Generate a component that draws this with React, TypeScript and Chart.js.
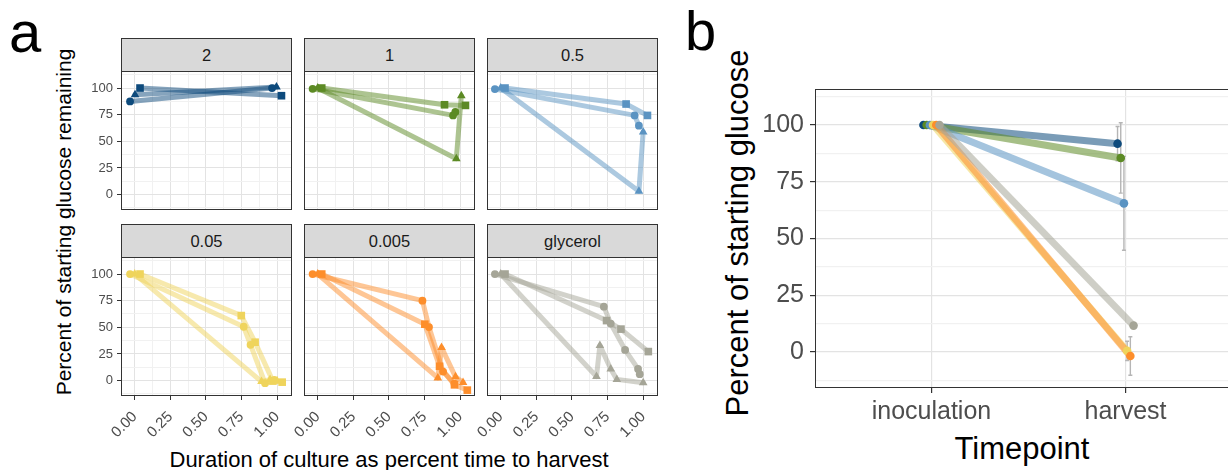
import React, { useEffect, useRef } from 'react';
import { Chart, registerables } from 'chart.js';

Chart.register(...registerables);

const FONT = '"Liberation Sans", Arial, Helvetica, sans-serif';
Chart.defaults.font.family = FONT;

// Glucose feed treatments (facets in panel a, series in panel b)
const treatments = ['2', '1', '0.5', '0.05', '0.005', 'glycerol'];
const treatmentColors = ['#0d4a7c', '#5c8a24', '#5a93c2', '#efd45c', '#fd8e2b', '#a5a597'];
const replicateShapes = ['circle', 'triangle', 'rect'];

// Panel a: sampling time (fraction of time to harvest) and glucose remaining (%)
// one inner array per replicate: circle, triangle, square
const time2 = [[-0.033, 0.964], [0.002, 0.995], [0.037, 1.03]];
const glucose2 = [[87.4, 100], [93.7, 101], [100, 92.8]];
const time1 = [[-0.036, 0.95, 0.966], [0.0, 0.973, 1.008], [0.028, 0.89, 1.037]];
const glucose1 = [[99.3, 74.3, 77.5], [100, 33.7, 92.8], [100, 84.3, 83.7]];
const time0_5 = [[-0.041, 0.94, 0.97], [0.0, 0.97, 1.0], [0.03, 0.88, 1.03]];
const glucose0_5 = [[99, 74.3, 64.7], [100, 3.1, 58.8], [100, 85, 74.3]];
const time0_05 = [[-0.033, 0.765, 0.813, 0.915, 0.98], [0.0, 0.89, 0.95, 1.0], [0.037, 0.748, 0.845, 0.97, 1.035]];
const glucose0_05 = [[100, 50.5, 33.5, -2.5, 0.5], [100, -1, 1, -0.5], [100, 61, 36, -0.5, -1.5]];
const time0_005 = [[-0.036, 0.735, 0.781, 0.88, 0.96], [0.0, 0.843, 0.869, 0.967, 1.02], [0.028, 0.752, 0.855, 0.96, 1.05]];
const glucose0_005 = [[100, 75, 50.2, 8.4, -3], [100, 2.5, 31.1, 3.5, -1.8], [100, 52.9, 13.4, -4, -9]];
const timeGlycerol = [[-0.041, 0.724, 0.772, 0.873, 0.964, 0.976], [0.0, 0.672, 0.696, 0.772, 0.815, 1.0], [0.03, 0.743, 0.844, 1.036]];
const glucoseGlycerol = [[100, 69.4, 53.5, 28.8, 10.9, 6], [100, 3.8, 33, 10.9, 1.1, -2.1], [100, 56.3, 48.3, 27.2]];

const facetTimes = [time2, time1, time0_5, time0_05, time0_005, timeGlycerol];
const facetGlucose = [glucose2, glucose1, glucose0_5, glucose0_05, glucose0_005, glucoseGlycerol];

const facetTimeTicks = [0, 0.25, 0.5, 0.75, 1];
const facetGlucoseTicks = [0, 25, 50, 75, 100];

// Panel b: mean percent of starting glucose with standard error
const timepoints = ['inoculation', 'harvest'];
const inoculationMean = [100, 100, 100, 100, 100, 100];
const harvestMean = [91.8, 85.5, 65.5, 0.45, -1.8, 11.6];
const harvestSE = [7.6, 15.5, 20.7, 4.25, 8.5, 1.2];
const glucoseTicks = [0, 25, 50, 75, 100];

// ---------- helpers ----------
function rgba(hex: string, a: number) {
  const n = parseInt(hex.slice(1), 16);
  return `rgba(${(n >> 16) & 255},${(n >> 8) & 255},${n & 255},${a})`;
}

function majorAndMinor(major: number[], min: number, max: number) {
  const half = (major[1] - major[0]) / 2;
  const out: number[] = [];
  for (let k = Math.ceil(min / half); k * half <= max; k++) out.push(k * half);
  return out;
}

function isMajor(v: number, major: number[]) {
  return major.some((m) => Math.abs(m - v) < 1e-9);
}

const panelFrame = {
  id: 'panelFrame',
  afterDatasetsDraw(chart: any) {
    const { ctx, chartArea } = chart;
    const { left, top, right, bottom } = chartArea;
    ctx.save();
    ctx.strokeStyle = '#333333';
    ctx.lineWidth = 1;
    ctx.strokeRect(left + 0.5, top + 0.5, right - left - 1, bottom - top - 1);
    ctx.restore();
  },
};

const GRID_MAJOR = '#e3e3e3';
const GRID_MINOR = '#f1f1f1';
const TICK_TEXT = '#4d4d4d';
const TICK_MARK = '#333333';

// ---------- layout of panel a ----------
const PAD = 24;
const FACET_W = 171;
const FACET_H = 139;
const STRIP_H = 33;
const colLefts = [121, 304, 487];
const rowTops = [71, 257];
const Y_AXIS_W = 46;
const X_AXIS_H = 54;
const X_MIN = -0.0965;
const X_MAX = 1.104;
const Y_MIN = -14.5;
const Y_MAX = 116;

// panel b plot area
const B_PAD = 10;
const B_LEFT = 815;
const B_TOP = 78;
const B_W = 427;
const B_H = 310;
const B_Y_AXIS_W = 75;
const B_X_AXIS_H = 42;
const B_DODGE = 0.0165;

function ChartCanvas(props: { left: number; top: number; width: number; height: number; build: () => any }) {
  const ref = useRef<HTMLCanvasElement | null>(null);
  useEffect(() => {
    const chart = new Chart(ref.current as HTMLCanvasElement, props.build());
    return () => chart.destroy();
  }, []);
  return (
    <canvas
      ref={ref}
      width={props.width}
      height={props.height}
      style={{ position: 'absolute', left: props.left, top: props.top, width: props.width, height: props.height }}
    />
  );
}

function facetConfig(i: number) {
  const col = i % 3;
  const row = Math.floor(i / 3);
  const color = treatmentColors[i];
  const datasets: any[] = [];
  replicateShapes.forEach((shape, r) => {
    const pts = facetTimes[i][r].map((t, k) => ({ x: t, y: facetGlucose[i][r][k] }));
    datasets.push({
      data: pts,
      showLine: true,
      borderColor: rgba(color, 0.5),
      borderWidth: 5,
      pointRadius: 0,
      borderJoinStyle: 'round',
      borderCapStyle: 'round',
      order: 10 + r,
    });
    datasets.push({
      data: pts,
      showLine: false,
      pointStyle: shape,
      pointRadius: shape === 'rect' ? 5.4 : shape === 'triangle' ? 5 : 3.9,
      pointBackgroundColor: color,
      pointBorderColor: color,
      pointBorderWidth: 0,
      order: r,
    });
  });
  const xTicks = majorAndMinor(facetTimeTicks, X_MIN, X_MAX);
  const yTicks = majorAndMinor(facetGlucoseTicks, Y_MIN, Y_MAX);
  return {
    type: 'scatter',
    data: { datasets },
    plugins: [panelFrame],
    options: {
      responsive: false,
      animation: false,
      events: [],
      layout: { padding: PAD },
      plugins: { legend: { display: false }, tooltip: { enabled: false } },
      scales: {
        x: {
          type: 'linear',
          min: X_MIN,
          max: X_MAX,
          afterBuildTicks: (s: any) => { s.ticks = xTicks.map((v) => ({ value: v })); },
          afterFit: (s: any) => { s.height = row === 1 ? X_AXIS_H : 0; },
          border: { display: false },
          grid: {
            color: (c: any) => (isMajor(c.tick.value, facetTimeTicks) ? GRID_MAJOR : GRID_MINOR),
            lineWidth: 1,
            drawTicks: row === 1,
            tickLength: 4,
            tickColor: (c: any) => (isMajor(c.tick.value, facetTimeTicks) ? TICK_MARK : 'rgba(0,0,0,0)'),
          },
          ticks: {
            display: row === 1,
            autoSkip: false,
            minRotation: 45,
            maxRotation: 45,
            padding: 8,
            color: TICK_TEXT,
            font: { family: FONT, size: 15 },
            callback: (v: number) => (isMajor(v, facetTimeTicks) ? v.toFixed(2) : ''),
          },
        },
        y: {
          type: 'linear',
          min: Y_MIN,
          max: Y_MAX,
          afterBuildTicks: (s: any) => { s.ticks = yTicks.map((v) => ({ value: v })); },
          afterFit: (s: any) => { s.width = col === 0 ? Y_AXIS_W : 0; },
          border: { display: false },
          grid: {
            color: (c: any) => (isMajor(c.tick.value, facetGlucoseTicks) ? GRID_MAJOR : GRID_MINOR),
            lineWidth: 1,
            drawTicks: col === 0,
            tickLength: 4,
            tickColor: (c: any) => (isMajor(c.tick.value, facetGlucoseTicks) ? TICK_MARK : 'rgba(0,0,0,0)'),
          },
          ticks: {
            display: col === 0,
            autoSkip: false,
            padding: 4,
            color: TICK_TEXT,
            font: { family: FONT, size: 13 },
            callback: (v: number) => (isMajor(v, facetGlucoseTicks) ? String(v) : ''),
          },
        },
      },
    },
  };
}

const harvestErrorBars = {
  id: 'harvestErrorBars',
  beforeDatasetsDraw(chart: any) {
    const { ctx } = chart;
    const x = chart.scales.x;
    const y = chart.scales.y;
    ctx.save();
    ctx.strokeStyle = '#b5b5b5';
    ctx.lineWidth = 1.4;
    harvestMean.forEach((m, i) => {
      const px = x.getPixelForValue(2 + (i - 2.5) * B_DODGE);
      const hi = y.getPixelForValue(m + harvestSE[i]);
      const lo = y.getPixelForValue(m - harvestSE[i]);
      ctx.beginPath();
      ctx.moveTo(px, hi);
      ctx.lineTo(px, lo);
      ctx.moveTo(px - 2, hi);
      ctx.lineTo(px + 2, hi);
      ctx.moveTo(px - 2, lo);
      ctx.lineTo(px + 2, lo);
      ctx.stroke();
    });
    ctx.restore();
  },
};

function timecourseConfig() {
  const datasets: any[] = [];
  treatments.forEach((t, i) => {
    const off = (i - 2.5) * B_DODGE;
    const pts = [
      { x: 1 + off, y: inoculationMean[i] },
      { x: 2 + off, y: harvestMean[i] },
    ];
    datasets.push({
      label: t,
      data: pts,
      showLine: true,
      borderColor: rgba(treatmentColors[i], 0.55),
      borderWidth: 7,
      pointRadius: 0,
      order: 20 - i,
    });
    datasets.push({
      label: t,
      data: pts,
      showLine: false,
      pointRadius: 4.3,
      pointBackgroundColor: treatmentColors[i],
      pointBorderColor: treatmentColors[i],
      pointBorderWidth: 0,
      order: 10 - i,
    });
  });
  const yTicks = majorAndMinor(glucoseTicks, -15.9, 115.9);
  return {
    type: 'scatter',
    data: { datasets },
    plugins: [harvestErrorBars, panelFrame],
    options: {
      responsive: false,
      animation: false,
      events: [],
      layout: { padding: B_PAD },
      plugins: { legend: { display: false }, tooltip: { enabled: false } },
      scales: {
        x: {
          type: 'linear',
          min: 0.4,
          max: 2.6,
          afterBuildTicks: (s: any) => { s.ticks = [1, 2].map((v) => ({ value: v })); },
          afterFit: (s: any) => { s.height = B_X_AXIS_H; },
          border: { display: false },
          grid: { color: GRID_MAJOR, lineWidth: 1.2, tickLength: 5, tickColor: TICK_MARK },
          ticks: {
            autoSkip: false,
            maxRotation: 0,
            padding: 4,
            color: TICK_TEXT,
            font: { family: FONT, size: 25 },
            callback: (v: number) => timepoints[Math.round(v) - 1],
          },
        },
        y: {
          type: 'linear',
          min: -15.9,
          max: 115.9,
          afterBuildTicks: (s: any) => { s.ticks = yTicks.map((v) => ({ value: v })); },
          afterFit: (s: any) => { s.width = B_Y_AXIS_W; },
          border: { display: false },
          grid: {
            color: (c: any) => (isMajor(c.tick.value, glucoseTicks) ? GRID_MAJOR : GRID_MINOR),
            lineWidth: 1.2,
            tickLength: 5,
            tickColor: (c: any) => (isMajor(c.tick.value, glucoseTicks) ? TICK_MARK : 'rgba(0,0,0,0)'),
          },
          ticks: {
            autoSkip: false,
            padding: 6,
            color: TICK_TEXT,
            font: { family: FONT, size: 25 },
            callback: (v: number) => (isMajor(v, glucoseTicks) ? String(v) : ''),
          },
        },
      },
    },
  };
}

const textBase: React.CSSProperties = {
  position: 'absolute',
  whiteSpace: 'nowrap',
  lineHeight: 1,
  color: '#000',
  fontFamily: FONT,
};

export default function App() {
  return (
    <div
      style={{
        position: 'fixed',
        left: 0,
        top: 0,
        width: 1228,
        height: 470,
        overflow: 'hidden',
        background: '#ffffff',
        fontFamily: FONT,
      }}
    >
      {/* panel a */}
      <div style={{ ...textBase, left: 9, top: 3, fontSize: 58 }}>a</div>
      <div
        style={{
          ...textBase,
          left: 63,
          top: 222,
          fontSize: 21,
          transform: 'translate(-50%, -50%) rotate(-90deg)',
        }}
      >
        Percent of starting glucose remaining
      </div>
      <div style={{ ...textBase, left: 389, top: 460, fontSize: 22, transform: 'translate(-50%, -50%)' }}>
        Duration of culture as percent time to harvest
      </div>
      {treatments.map((t, i) => {
        const col = i % 3;
        const row = Math.floor(i / 3);
        const yW = col === 0 ? Y_AXIS_W : 0;
        const xH = row === 1 ? X_AXIS_H : 0;
        return (
          <React.Fragment key={t}>
            <div
              style={{
                position: 'absolute',
                left: colLefts[col],
                top: rowTops[row] - STRIP_H,
                width: FACET_W,
                height: STRIP_H + 1,
                boxSizing: 'border-box',
                background: '#d9d9d9',
                border: '1px solid #333333',
                display: 'flex',
                alignItems: 'center',
                justifyContent: 'center',
                fontSize: 16.5,
                color: '#1a1a1a',
                fontFamily: FONT,
              }}
            >
              {t}
            </div>
            <ChartCanvas
              left={colLefts[col] - yW - PAD}
              top={rowTops[row] - PAD}
              width={PAD + yW + FACET_W + PAD}
              height={PAD + FACET_H + xH + PAD}
              build={() => facetConfig(i)}
            />
          </React.Fragment>
        );
      })}

      {/* panel b */}
      <div style={{ ...textBase, left: 685, top: 3, fontSize: 56 }}>b</div>
      <div
        style={{
          ...textBase,
          left: 737,
          top: 233,
          fontSize: 31,
          transform: 'translate(-50%, -50%) rotate(-90deg)',
        }}
      >
        Percent of starting glucose
      </div>
      <div style={{ ...textBase, left: 1022, top: 448, fontSize: 31, transform: 'translate(-50%, -50%)' }}>
        Timepoint
      </div>
      <ChartCanvas
        left={B_LEFT - B_Y_AXIS_W - B_PAD}
        top={B_TOP - B_PAD}
        width={B_PAD + B_Y_AXIS_W + B_W + B_PAD}
        height={B_PAD + B_H + B_X_AXIS_H + B_PAD}
        build={timecourseConfig}
      />
    </div>
  );
}
